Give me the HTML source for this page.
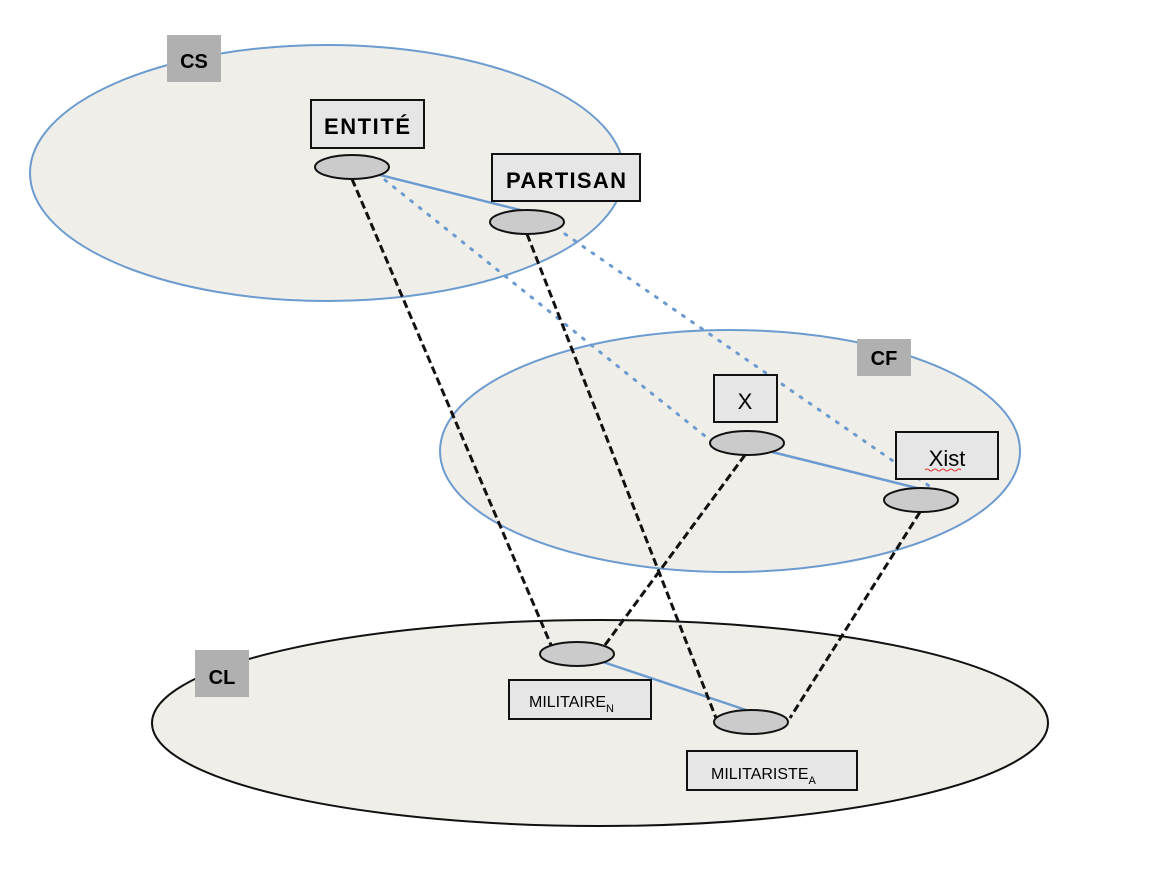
<!DOCTYPE html>
<html><head><meta charset="utf-8"><style>
body{margin:0;background:#fff;}
svg text{font-family:"Liberation Sans",sans-serif;}
</style></head><body>
<svg width="1162" height="870" viewBox="0 0 1162 870" xmlns="http://www.w3.org/2000/svg">
<ellipse cx="327" cy="173" rx="297" ry="128" fill="#f0eee8" stroke="#6c9bd0" stroke-width="2"/>
<ellipse cx="730" cy="451" rx="290" ry="121" fill="#f0eee8" stroke="#6c9bd0" stroke-width="2"/>
<ellipse cx="600" cy="723" rx="448" ry="103" fill="#f0eee8" stroke="#111" stroke-width="2"/>
<rect x="167" y="35" width="54" height="47" fill="#b0b0b0"/>
<text x="194" y="68" font-size="20" font-weight="bold" text-anchor="middle">CS</text>
<rect x="857" y="339" width="54" height="37" fill="#b0b0b0"/>
<text x="884" y="365" font-size="20" font-weight="bold" text-anchor="middle">CF</text>
<rect x="195" y="650" width="54" height="47" fill="#b0b0b0"/>
<text x="222" y="684" font-size="20" font-weight="bold" text-anchor="middle">CL</text>
<g stroke="#6c9bd0" stroke-width="3" stroke-dasharray="2 9" stroke-linecap="round">
<line x1="385" y1="180" x2="710" y2="440"/>
<line x1="565" y1="234" x2="935" y2="490"/>
</g>
<g stroke="#6c9bd0" stroke-width="2.5">
<line x1="380" y1="175" x2="528" y2="212"/>
<line x1="772" y1="452" x2="921" y2="489"/>
<line x1="603" y1="662" x2="752" y2="712"/>
</g>
<g stroke="#111" stroke-width="3" stroke-dasharray="8 4">
<line x1="352" y1="179" x2="551" y2="645"/>
<line x1="527" y1="234" x2="716" y2="718"/>
<line x1="745" y1="455" x2="605" y2="645"/>
<line x1="920" y1="512" x2="790" y2="718"/>
</g>
<g fill="#cbcbcb" stroke="#111" stroke-width="2">
<ellipse cx="352" cy="167" rx="37" ry="12"/>
<ellipse cx="527" cy="222" rx="37" ry="12"/>
<ellipse cx="747" cy="443" rx="37" ry="12"/>
<ellipse cx="921" cy="500" rx="37" ry="12"/>
<ellipse cx="577" cy="654" rx="37" ry="12"/>
<ellipse cx="751" cy="722" rx="37" ry="12"/>
</g>
<g fill="#e6e6e6" stroke="#111" stroke-width="2">
<rect x="311" y="100" width="113" height="48"/>
<rect x="492" y="154" width="148" height="47"/>
<rect x="714" y="375" width="63" height="47"/>
<rect x="896" y="432" width="102" height="47"/>
<rect x="509" y="680" width="142" height="39"/>
<rect x="687" y="751" width="170" height="39"/>
</g>
<text x="367" y="134" font-size="22" font-weight="bold" text-anchor="middle" textLength="86">ENTITÉ</text>
<text x="566" y="188" font-size="22" font-weight="bold" text-anchor="middle" textLength="120">PARTISAN</text>
<text x="745" y="409" font-size="22" text-anchor="middle">X</text>
<text x="947" y="466" font-size="22" text-anchor="middle">Xist</text>
<path d="M925 470 q2 -2 4 0 t4 0 t4 0 t4 0 t4 0 t4 0 t4 0 t4 0 t4 0" fill="none" stroke="#e03030" stroke-width="1"/>
<text x="529" y="707" font-size="16">MILITAIRE<tspan font-size="11" dy="5">N</tspan></text>
<text x="711" y="779" font-size="16">MILITARISTE<tspan font-size="11" dy="5">A</tspan></text>
</svg>
</body></html>
